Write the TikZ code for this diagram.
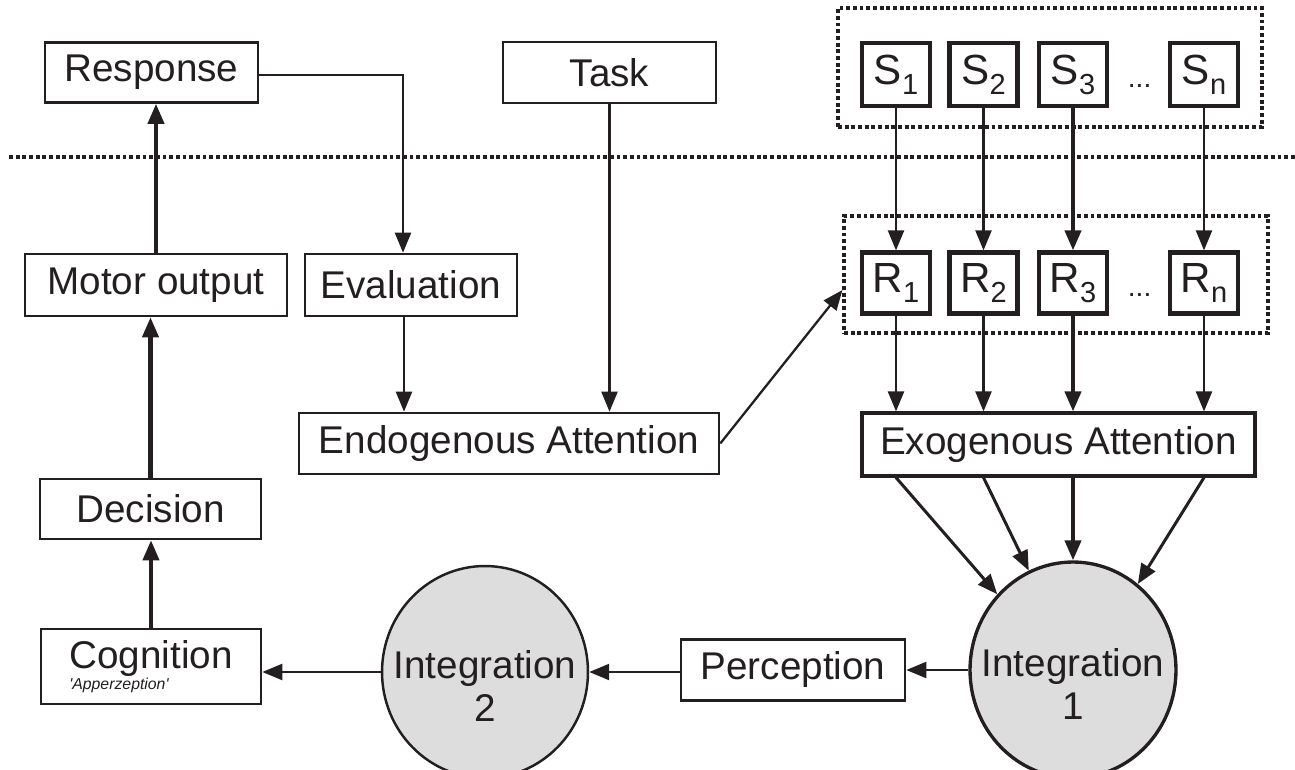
\documentclass[tikz,border=0pt]{standalone}
\usepackage{fontspec}
\setmainfont{Liberation Sans}
\usepackage{xcolor}
\definecolor{ink}{RGB}{35,31,32}
\definecolor{integfill}{RGB}{221,221,221}
\usetikzlibrary{shapes.geometric}
\usetikzlibrary{arrows.meta}
\newcommand{\subidx}[1]{\raisebox{-0.24em}{\fontsize{16.5}{17}\selectfont #1}}

\tikzset{
  box/.style={draw=ink,line width=1.5pt,rectangle,inner sep=0pt,text=ink,font=\fontsize{22}{24}\selectfont},
  sbox/.style={draw=ink,line width=2.4pt,rectangle,inner sep=0pt,minimum width=1.36cm,minimum height=1.26cm,text=ink,font=\fontsize{24}{26}\selectfont},
  integ/.style={draw=ink,ellipse,fill=integfill,inner sep=0pt,line width=1.4pt},
  integtext/.style={text=ink,align=center,font=\fontsize{22}{24}\selectfont},
  group/.style={draw=ink,line width=1.8pt,dash pattern=on 2.2pt off 1.6pt},
  arr/.style={draw=ink,line width=1.3pt,-{Triangle[length=0.4cm,width=0.32cm]}},
  midarr/.style={arr,line width=1.7pt},
  thickarr/.style={arr,line width=2.3pt},
}

\begin{document}
\begin{tikzpicture}[x=0.02cm,y=-0.02cm]
\useasboundingbox (0,0) rectangle (1295,770);

\node[box,minimum width=4.26cm,minimum height=1.2cm] (response) at (151.5,72.5) {Response};
\node[box,minimum width=4.26cm,minimum height=1.22cm] (task) at (609.5,72.5) {Task};
\node[box,minimum width=5.24cm,minimum height=1.24cm] (motor) at (156,285) {Motor output};
\node[box,minimum width=4.24cm,minimum height=1.24cm] (eval) at (411,285) {Evaluation};
\node[box,minimum width=8.4cm,minimum height=1.22cm] (endo) at (509,443.5) {Endogenous Attention};
\node[box,minimum width=4.42cm,minimum height=1.2cm] (decision) at (150.5,509) {Decision};
\node[box,minimum width=4.4cm,minimum height=1.5cm,align=left] (cognition) at (151,666.5)
  {Cognition\\[-12pt]{\fontsize{9}{10}\selectfont\itshape\textquotesingle Apperzeption\textquotesingle}};
\node[box,minimum width=4.48cm,minimum height=1.22cm] (perception) at (793,670) {Perception};
\node[box,line width=1.8pt,minimum width=7.86cm,minimum height=1.26cm] (exo) at (1058.5,444.5) {Exogenous Attention};

\node[integ,minimum width=4.12cm,minimum height=4.24cm] (int2) at (485,672) {};
\node[integtext] (int2txt) at ([yshift=-0.28cm]int2.center) {Integration\\2};
\node[integ,line width=1.9pt,minimum width=4.12cm,minimum height=4.32cm] (int1) at (1073,670) {};
\node[integtext] (int1txt) at ([yshift=-0.28cm]int1.center) {Integration\\1};

\node[group,minimum width=8.48cm,minimum height=2.38cm] (sgroup) at (1050,67.5) {};
\node[group,minimum width=8.48cm,minimum height=2.34cm] (rgroup) at (1056,274.5) {};
\foreach \i/\x in {1/896,2/983.5,3/1073,n/1204}{
  \node[sbox] (s\i) at (\x,74.5) {S\subidx{\i}};
  \node[sbox,minimum height=1.22cm] (r\i) at (\x,283) {R\subidx{\i}};
}
\node[text=ink,font=\fontsize{16}{16}\selectfont] (sdots) at (1139.6,86) {...};
\node[text=ink,font=\fontsize{16}{16}\selectfont] (rdots) at (1139.6,295) {...};

\draw[group] (9,157) -- (1295,157);

\draw[thickarr] (motor.north) -- (motor.north |- response.south);
\draw[thickarr] (decision.north) -- (decision.north |- motor.south);
\draw[thickarr] (cognition.north) -- (cognition.north |- decision.south);
\draw[arr] ([yshift=-0.05cm]response.east) -| ([xshift=-0.16cm]eval.north);
\draw[arr] ([xshift=-0.14cm]eval.south) -- ([xshift=-0.14cm]eval.south |- endo.north);
\draw[arr] (task.south) -- (task.south |- endo.north);
\draw[arr] (endo.east) -- ([yshift=-0.31cm]rgroup.west);

\foreach \i in {1,2,n}{
  \draw[arr] (s\i) -- (r\i);
  \draw[arr] (r\i.south) -- (r\i.south |- exo.north);
}
\draw[thickarr] (s3) -- (r3);
\draw[thickarr] (r3.south) -- (r3.south |- exo.north);

\draw[midarr] (r1.south |- exo.south) -- (int1.135);
\draw[midarr] (r2.south |- exo.south) -- (int1.114);
\draw[thickarr] (r3.south |- exo.south) -- (int1.north);
\draw[midarr] (rn.south |- exo.south) -- (int1.53);

\draw[arr] (int1.west) -- (int1.west -| perception.east);
\draw[arr] (perception.west |- int2.east) -- (int2.east);
\draw[arr] (int2.west) -- (int2.west -| cognition.east);
\end{tikzpicture}
\end{document}
